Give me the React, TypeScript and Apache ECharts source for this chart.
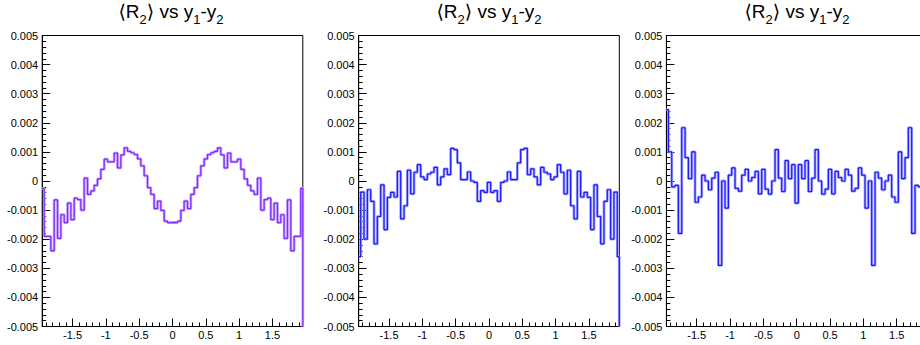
import React, { useEffect, useRef } from "react";
import * as echarts from "echarts";

// ---- axis definitions ----
const X_MIN = -1.955;
const X_MAX = 1.955;
const BIN_LOW = -1.975;
const BIN_WIDTH = 0.05;
const Y_MIN = -0.005;
const Y_MAX = 0.005;
const Y_STEP = 0.001;
const X_TICKS = [-1.5, -1, -0.5, 0, 0.5, 1, 1.5];
const X_MINOR_TICKS = [
  -1.9, -1.8, -1.7, -1.6, -1.4, -1.3, -1.2, -1.1, -0.9, -0.8, -0.7, -0.6, -0.4, -0.3, -0.2, -0.1,
  0.1, 0.2, 0.3, 0.4, 0.6, 0.7, 0.8, 0.9, 1.1, 1.2, 1.3, 1.4, 1.6, 1.7, 1.8, 1.9,
];
const TITLE_TEXT = "{a|⟨R}{s|2}{a|⟩ vs y}{s|1}{a|-y}{s|2}";

// ---- bin contents (79 bins of width 0.05) ----
const R2_LEFT = [
  -0.00025, -0.0019, -0.0019, -0.0024, -0.00065, -0.00197, -0.00116, -0.00143, -0.00076, -0.00133,
  -0.00059, -0.00064, -0.001, 0.0001, -0.00046, -0.00034, -0.00015, 0.00007, 0.0004, 0.00075,
  0.00066, 0.00066, 0.00096, 0.00045, 0.0009, 0.00114, 0.00102, 0.00097, 0.00091, 0.00076,
  0.00052, 0.00018, -0.00023, -0.00046, -0.00095, -0.00069, -0.00101, -0.00138, -0.00143, -0.00142,
  -0.00143, -0.00138, -0.00101, -0.00069, -0.00095, -0.00046, -0.00023, 0.00018, 0.00052, 0.00076,
  0.00091, 0.00097, 0.00102, 0.00114, 0.0009, 0.00045, 0.00096, 0.00066, 0.00066, 0.00075,
  0.0004, 0.00007, -0.00015, -0.00034, -0.00046, 0.0001, -0.001, -0.00064, -0.00059, -0.00133,
  -0.00076, -0.00143, -0.00116, -0.00197, -0.00065, -0.0024, -0.0019, -0.0019, -0.00025,
];
const R2_MIDDLE = [
  -0.0026, -0.00038, -0.002, -0.0003, -0.0007, -0.00216, -0.00122, -0.00013, -0.00167, -0.00056,
  -0.00039, -0.00055, 0.00033, -0.0013, -0.00085, 0.00037, -0.00044, 0.0003, 0.00056, 0.00014,
  0.00005, 0.00024, 0.0003, 0.00047, -0.00013, 0.00014, 0.00042, 0.00022, 0.00112, 0.00108,
  0.00062, 0.00005, 0.00005, 0.00031, 0.0, -0.00005, -0.0007, -0.00033, -0.00039, -0.00005,
  -0.00039, -0.00033, -0.0007, -0.00005, 0.0, 0.00031, 0.00005, 0.00005, 0.00062, 0.00108,
  0.00112, 0.00022, 0.00042, 0.00014, -0.00013, 0.00047, 0.0003, 0.00024, 0.00005, 0.00014,
  0.00056, 0.0003, -0.00044, 0.00037, -0.00085, -0.0013, 0.00033, -0.00055, -0.00039, -0.00056,
  -0.00167, -0.00013, -0.00122, -0.00216, -0.0007, -0.0003, -0.002, -0.00038, -0.0026,
];
const R2_RIGHT = [
  0.00245, 0.001, -0.0002, -0.00015, -0.0018, 0.00183, 0.0008, 0.00008, 0.001, -0.00073,
  -0.00055, 0.0002, 0.0, -0.0003, 0.0001, 0.0003, -0.0029, 0.0, -0.00093, 0.0002,
  0.00045, -0.00025, -0.00035, 0.0002, 0.0004, 0.0, 0.00012, 0.00033, -0.00044, 0.0004,
  -0.00028, -0.00045, 0.0, 0.00108, 0.0001, -0.00036, 0.0007, 0.00008, 0.00056, -0.00076,
  0.00056, 0.00008, 0.0007, -0.00036, 0.0001, 0.00108, 0.0, -0.00045, -0.00028, 0.0004,
  -0.00044, 0.00033, 0.00012, 0.0, 0.0004, 0.0002, -0.00035, -0.00025, 0.00045, 0.0002,
  -0.00093, 0.0, -0.0029, 0.0003, 0.0001, -0.0003, 0.0, 0.0002, -0.00055, -0.00073,
  0.001, 0.00008, 0.0008, 0.00183, -0.0018, -0.00015, -0.0002, 0.001, 0.00245,
];

const FONT = "'Liberation Sans', Arial, 'DejaVu Sans', sans-serif";

const PANELS = [
  { values: R2_LEFT, left: 42.2, titleX: 171, core: "#7e2cff", halo: "#c6a3ff" },
  { values: R2_MIDDLE, left: 358.7, titleX: 489, core: "#1c1cff", halo: "#a4a4ff" },
  { values: R2_RIGHT, left: 666.4, titleX: 797, core: "#1c1cff", halo: "#a4a4ff" },
];
const GRID_W = 260.6;
const GRID_TOP = 35.5;
const GRID_H = 291;

function clampX(x: number) {
  return Math.min(X_MAX, Math.max(X_MIN, x));
}

function outline(values: number[]) {
  const pts: number[][] = [];
  values.forEach((v, i) => {
    const lo = clampX(BIN_LOW + i * BIN_WIDTH);
    const hi = clampX(BIN_LOW + (i + 1) * BIN_WIDTH);
    pts.push([lo, v], [hi, v]);
  });
  pts.push([clampX(BIN_LOW + values.length * BIN_WIDTH), Y_MIN]);
  return pts;
}

function fmtY(v: number) {
  return String(+v.toFixed(3));
}

export default function App() {
  const ref = useRef<HTMLDivElement>(null);
  useEffect(() => {
    if (!ref.current) return;
    const chart = echarts.init(ref.current, undefined, { renderer: "svg" });
    const grid: any[] = [];
    const xAxis: any[] = [];
    const yAxis: any[] = [];
    const series: any[] = [];
    const graphic: any[] = [];
    PANELS.forEach((p, i) => {
      grid.push({
        left: p.left,
        top: GRID_TOP,
        width: GRID_W,
        height: GRID_H,
        show: true,
        borderColor: "#000",
        borderWidth: 1,
        backgroundColor: "transparent",
        containLabel: false,
        outerBoundsMode: "none",
      });
      xAxis.push({
        gridIndex: i,
        type: "value",
        position: "bottom",
        min: X_MIN,
        max: X_MAX,
        axisLine: { show: true, onZero: false, lineStyle: { color: "#000", width: 1 } },
        axisTick: { show: true, inside: true, length: 8, customValues: X_TICKS, lineStyle: { color: "#000" } },
        axisLabel: {
          show: true,
          customValues: X_TICKS,
          formatter: (v: number) => String(v),
          color: "#000",
          fontSize: 11,
          fontFamily: FONT,
          margin: 3,
        },
        splitLine: { show: false },
        minorTick: { show: false },
      });
      xAxis.push({
        gridIndex: i,
        type: "value",
        position: "bottom",
        min: X_MIN,
        max: X_MAX,
        axisLine: { show: false, onZero: false },
        axisTick: { show: true, inside: true, length: 4, customValues: X_MINOR_TICKS, lineStyle: { color: "#000" } },
        axisLabel: { show: false },
        splitLine: { show: false },
      });
      yAxis.push({
        gridIndex: i,
        type: "value",
        min: Y_MIN,
        max: Y_MAX,
        interval: Y_STEP,
        axisLine: { show: true, onZero: false, lineStyle: { color: "#000", width: 1 } },
        axisTick: { show: true, inside: true, length: 8, lineStyle: { color: "#000" } },
        minorTick: { show: true, splitNumber: 5, length: 4, lineStyle: { color: "#000" } },
        axisLabel: { formatter: fmtY, color: "#000", fontSize: 11, fontFamily: FONT, margin: 4 },
        splitLine: { show: false },
        minorSplitLine: { show: false },
      });
      const data = outline(p.values);
      series.push({
        type: "line",
        xAxisIndex: 2 * i,
        yAxisIndex: i,
        data,
        showSymbol: false,
        symbol: "none",
        silent: true,
        clip: true,
        lineStyle: { color: p.halo, width: 2.8 },
        z: 3,
      });
      series.push({
        type: "line",
        xAxisIndex: 2 * i,
        yAxisIndex: i,
        data,
        showSymbol: false,
        symbol: "none",
        silent: true,
        clip: true,
        lineStyle: { color: p.core, width: 1.2 },
        z: 4,
      });
      graphic.push({
        type: "text",
        x: p.titleX,
        y: -1,
        style: {
          text: TITLE_TEXT,
          align: "center",
          verticalAlign: "top",
          fill: "#000",
          rich: {
            a: { fontSize: 19, fontFamily: FONT, lineHeight: 24, fill: "#000" },
            s: { fontSize: 13, fontFamily: FONT, lineHeight: 14, padding: [16, 0, 0, 0], fill: "#000" },
          },
        },
      });
    });
    chart.setOption({
      animation: false,
      backgroundColor: "#fff",
      outerBoundsMode: "none",
      grid,
      xAxis,
      yAxis,
      series,
      graphic,
    });
    return () => chart.dispose();
  }, []);
  return (
    <div
      ref={ref}
      style={{ position: "absolute", left: 0, top: 0, width: 920, height: 345 }}
    />
  );
}
